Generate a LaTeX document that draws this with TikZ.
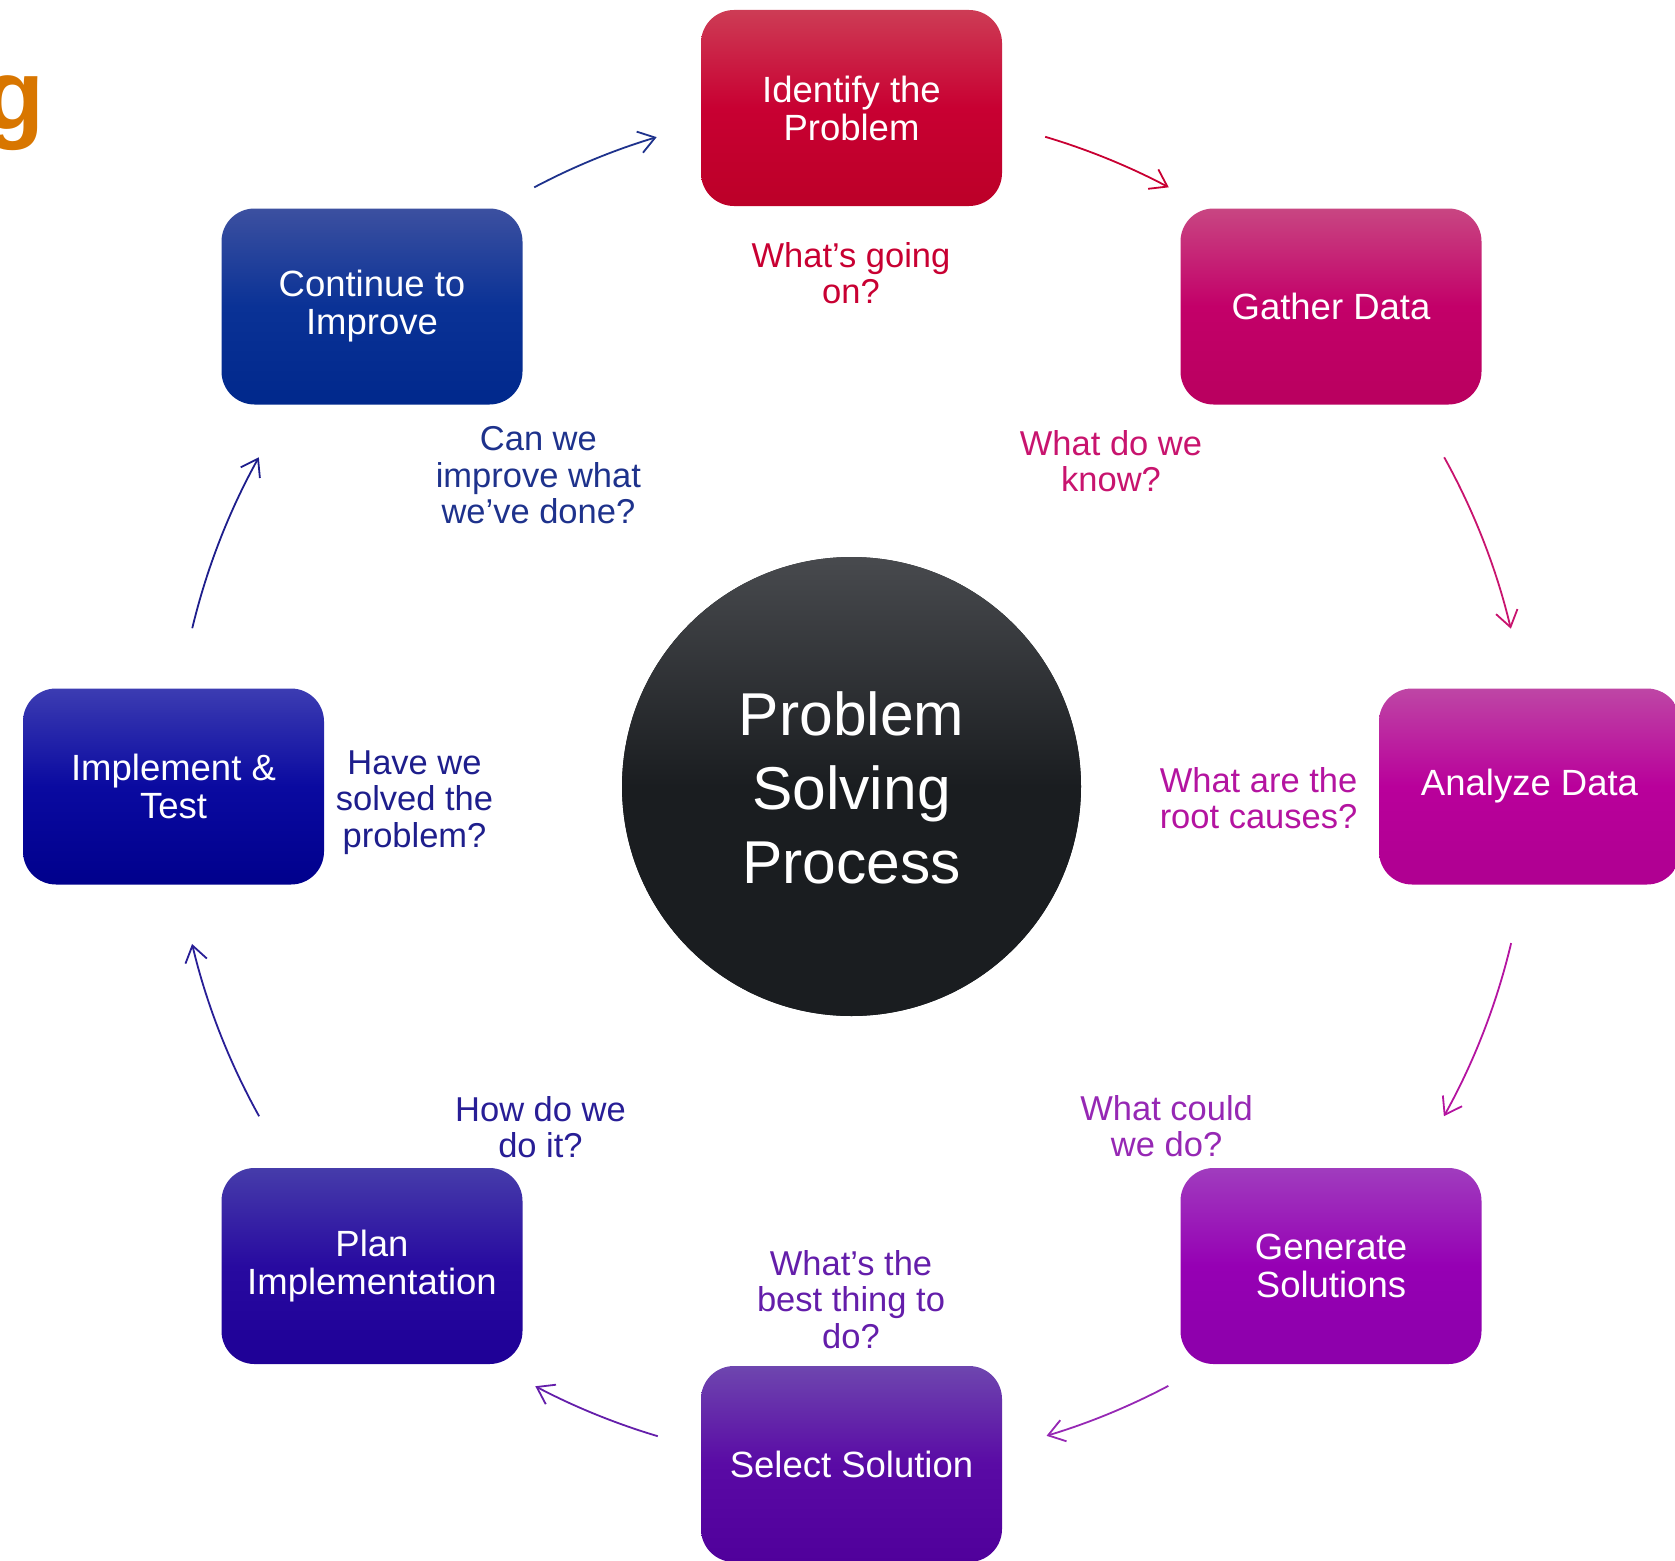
\documentclass[tikz,border=0pt]{standalone}
\usepackage{fontspec}
\setmainfont{Liberation Sans}
\usetikzlibrary{arrows.meta,calc}
% box colours (top / middle / bottom)
\definecolor{idtop}{RGB}{205,60,85}\definecolor{idmid}{RGB}{200,0,50}\definecolor{idbot}{RGB}{188,0,40}
\definecolor{gatop}{RGB}{200,70,130}\definecolor{gamid}{RGB}{195,0,105}\definecolor{gabot}{RGB}{185,0,95}
\definecolor{antop}{RGB}{190,70,165}\definecolor{anmid}{RGB}{185,0,155}\definecolor{anbot}{RGB}{175,0,145}
\definecolor{getop}{RGB}{160,60,190}\definecolor{gemid}{RGB}{150,0,180}\definecolor{gebot}{RGB}{140,0,170}
\definecolor{setop}{RGB}{110,70,175}\definecolor{semid}{RGB}{90,10,165}\definecolor{sebot}{RGB}{80,0,155}
\definecolor{pltop}{RGB}{70,60,170}\definecolor{plmid}{RGB}{40,10,160}\definecolor{plbot}{RGB}{30,0,150}
\definecolor{imtop}{RGB}{60,60,178}\definecolor{immid}{RGB}{10,10,160}\definecolor{imbot}{RGB}{0,0,140}
\definecolor{cotop}{RGB}{60,80,160}\definecolor{comid}{RGB}{10,50,150}\definecolor{cobot}{RGB}{0,40,140}
\definecolor{hubtop}{RGB}{72,74,78}\definecolor{hubbot}{RGB}{26,29,32}
% label / arrow colours
\definecolor{lgoing}{RGB}{200,0,50}
\definecolor{lknow}{RGB}{200,20,110}
\definecolor{lroot}{RGB}{180,20,160}
\definecolor{lcould}{RGB}{150,40,180}
\definecolor{lbest}{RGB}{100,30,170}
\definecolor{lhow}{RGB}{40,30,150}
\definecolor{lhave}{RGB}{30,30,140}
\definecolor{lcan}{RGB}{30,50,140}
\definecolor{titleor}{RGB}{216,118,0}
\begin{document}
\begin{tikzpicture}[x=1pt,y=-1pt,
  stagebox/.style={rounded corners=33pt, minimum width=301pt, minimum height=196pt,
    inner sep=0pt, align=center, text=white, font=\fontsize{36.5}{38}\selectfont,
    top color=#1top, bottom color=#1bot, middle color=#1mid},
  qlabel/.style={align=center, inner sep=0pt, anchor=base, text=#1,
    font=\fontsize{34.5}{36.5}\selectfont},
  cyc/.style={draw=#1, line width=1.8pt,
    -{Straight Barb[length=16pt,width=22pt,line width=1.8pt]}}
]
\useasboundingbox (0,0) rectangle (1675,1560);
\coordinate (C) at (851.5,786.5);

% partial title letter
\node[anchor=base east, inner sep=0pt, text=titleor,
  font=\bfseries\fontsize{100}{100}\selectfont] (title) at (45,130) {g};

% hub
\node[circle, minimum size=459pt, inner sep=0pt, fill=hubbot,
  top color=hubtop, bottom color=hubbot, middle color=hubbot] (hub) at (C) {};
\node[align=center, text=white, inner sep=0pt, anchor=base,
  font=\fontsize{60.5}{74}\selectfont] (hubtext) at (851.5,883) {Problem\\Solving\\Process};

% stages
\node[stagebox=id] (identify) at (851.5,108) {Identify the\\Problem};
\node[stagebox=ga] (gather) at (1331,306.5) {Gather Data};
\node[stagebox=an] (analyze) at (1529.5,786.5) {Analyze Data};
\node[stagebox=ge] (generate) at (1331,1266) {Generate\\Solutions};
\node[stagebox=se] (select) at (851.5,1464) {Select Solution};
\node[stagebox=pl] (plan) at (372,1266) {Plan\\Implementation};
\node[stagebox=im] (implement) at (173.5,786.5) {Implement \&\\Test};
\node[stagebox=co] (continue) at (372,306.5) {Continue to\\Improve};

% questions (anchored at the baseline of their last line)
\node[qlabel=lgoing] (qgoing) at (851,303.5) {What’s going\\on?};
\node[qlabel=lknow] (qknow) at (1111,491.5) {What do we\\know?};
\node[qlabel=lroot] (qroot) at (1258.5,828.5) {What are the\\root causes?};
\node[qlabel=lcould] (qcould) at (1166.6,1156.5) {What could\\we do?};
\node[qlabel=lbest] (qbest) at (851,1348) {What’s the\\best thing to\\do?};
\node[qlabel=lhow] (qhow) at (540.5,1157.5) {How do we\\do it?};
\node[qlabel=lhave] (qhave) at (414.5,847) {Have we\\solved the\\problem?};
\node[qlabel=lcan] (qcan) at (538.4,523.5) {Can we\\improve what\\we’ve done?};

% cycle arrows (arcs of the layout circle)
\coordinate (a1) at ($(C)+(-117.9:678)$);
\coordinate (a2) at ($(C)+(-73.4:678)$);
\coordinate (a3) at ($(C)+(-29.05:678)$);
\coordinate (a4) at ($(C)+(13.36:678)$);
\coordinate (a5) at ($(C)+(62.14:678)$);
\coordinate (a6) at ($(C)+(106.6:678)$);
\coordinate (a7) at ($(C)+(150.9:678)$);
\coordinate (a8) at ($(C)+(193.5:678)$);
\draw[cyc=lcan]   (a1) arc[start angle=-117.9, end angle=-106.7, radius=678];
\draw[cyc=lgoing] (a2) arc[start angle=-73.4,  end angle=-62.1,  radius=678];
\draw[cyc=lknow]  (a3) arc[start angle=-29.05, end angle=-13.46, radius=678];
\draw[cyc=lroot]  (a4) arc[start angle=13.36,  end angle=29.1,   radius=678];
\draw[cyc=lcould] (a5) arc[start angle=62.14,  end angle=73.28,  radius=678];
\draw[cyc=lbest]  (a6) arc[start angle=106.6,  end angle=117.8,  radius=678];
\draw[cyc=lhow]   (a7) arc[start angle=150.9,  end angle=166.57, radius=678];
\draw[cyc=lhave]  (a8) arc[start angle=193.5,  end angle=209.05, radius=678];
\end{tikzpicture}
\end{document}
